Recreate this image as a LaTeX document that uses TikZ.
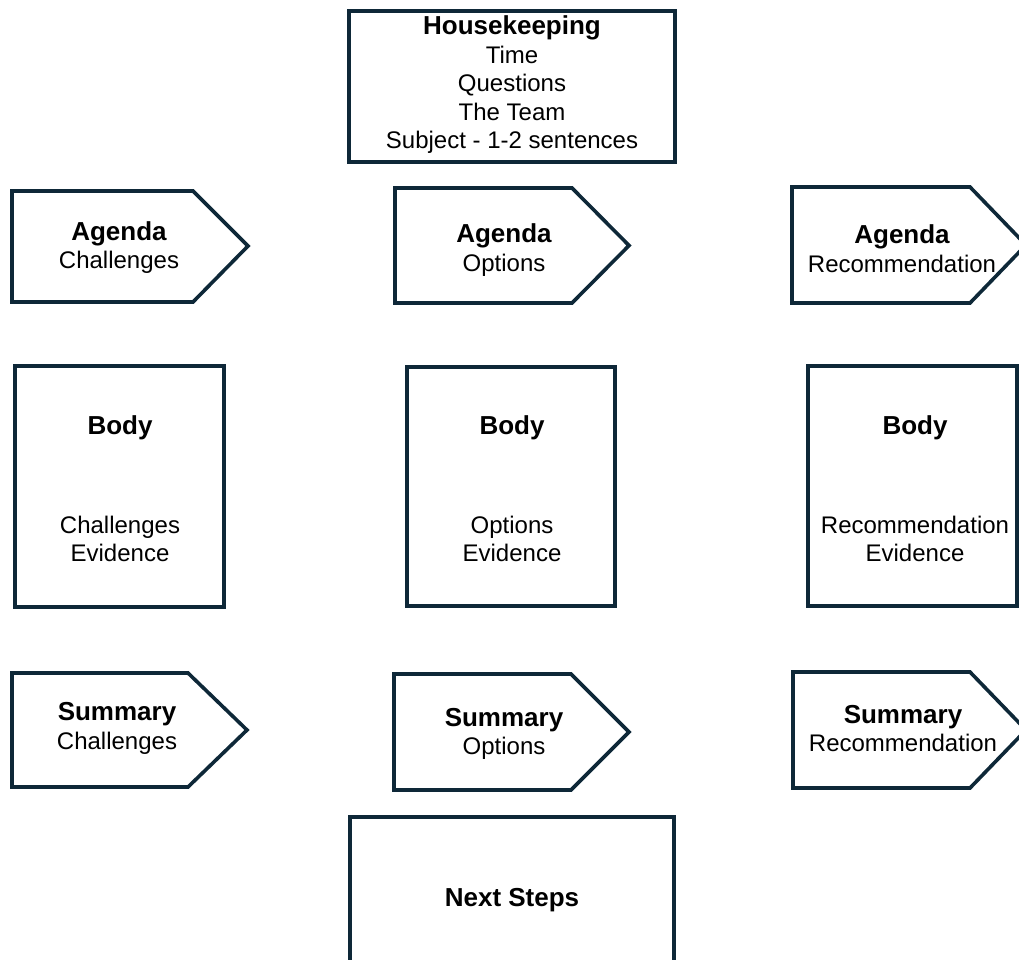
\documentclass[tikz,border=0pt]{standalone}
\usepackage{fontspec}
\setmainfont{Liberation Sans}
\definecolor{navy}{HTML}{0E2838}
\newcommand\boldhead[1]{{\fontsize{26}{28.5}\selectfont\bfseries #1}}
\begin{document}
\begin{tikzpicture}[x=1pt,y=-1pt,
  frame/.style={draw=navy,line width=3.6pt,line join=miter},
  txt/.style={align=center,inner sep=0pt,font=\fontsize{24}{28.5}\selectfont}]
\useasboundingbox (0,0) rectangle (1019,960);
\clip (0,0) rectangle (1019,960);
% opening
\draw[frame] (349,11) rectangle (675,162);
\node[txt] (house) at (512,85) {\boldhead{Housekeeping}\\Time\\Questions\\The Team\\Subject - 1-2 sentences};
% agenda row
\draw[frame] (12,191)--(193,191)--(248,246)--(193,302)--(12,302)--cycle;
\draw[frame] (395,188)--(572,188)--(629,245.5)--(572,303)--(395,303)--cycle;
\draw[frame] (792,187)--(970,187)--(1026,245)--(970,303)--(792,303)--cycle;
\node[txt] (agendaA) at (119,247.5) {\boldhead{Agenda}\\Challenges};
\node[txt] (agendaB) at (504,250) {\boldhead{Agenda}\\Options};
\node[txt] (agendaC) at (902,248.5) {\boldhead{Agenda}\\Recommendation};
% body row
\draw[frame] (15,366) rectangle (224,607);
\draw[frame] (407,367) rectangle (615,606);
\draw[frame] (808,366) rectangle (1017,606);
\node[txt] (bodyA) at (120,428) {\boldhead{Body}};
\node[txt] (bodyB) at (512,428) {\boldhead{Body}};
\node[txt] (bodyC) at (915,428) {\boldhead{Body}};
\node[txt] (evidA) at (120,539) {Challenges\\Evidence};
\node[txt] (evidB) at (512,539) {Options\\Evidence};
\node[txt] (evidC) at (915,539) {Recommendation\\Evidence};
% summary row
\draw[frame] (12,673)--(188,673)--(247,730)--(188,787)--(12,787)--cycle;
\draw[frame] (394,674)--(571,674)--(629,732)--(571,790)--(394,790)--cycle;
\draw[frame] (793,672)--(970,672)--(1026,730)--(970,788)--(793,788)--cycle;
\node[txt] (summA) at (117,728.5) {\boldhead{Summary}\\Challenges};
\node[txt] (summB) at (504,734) {\boldhead{Summary}\\Options};
\node[txt] (summC) at (903,728.5) {\boldhead{Summary}\\Recommendation};
% closing
\draw[frame] (350,817) rectangle (674,990);
\node[txt] (next) at (512,900) {\boldhead{Next Steps}};
\end{tikzpicture}
\end{document}
